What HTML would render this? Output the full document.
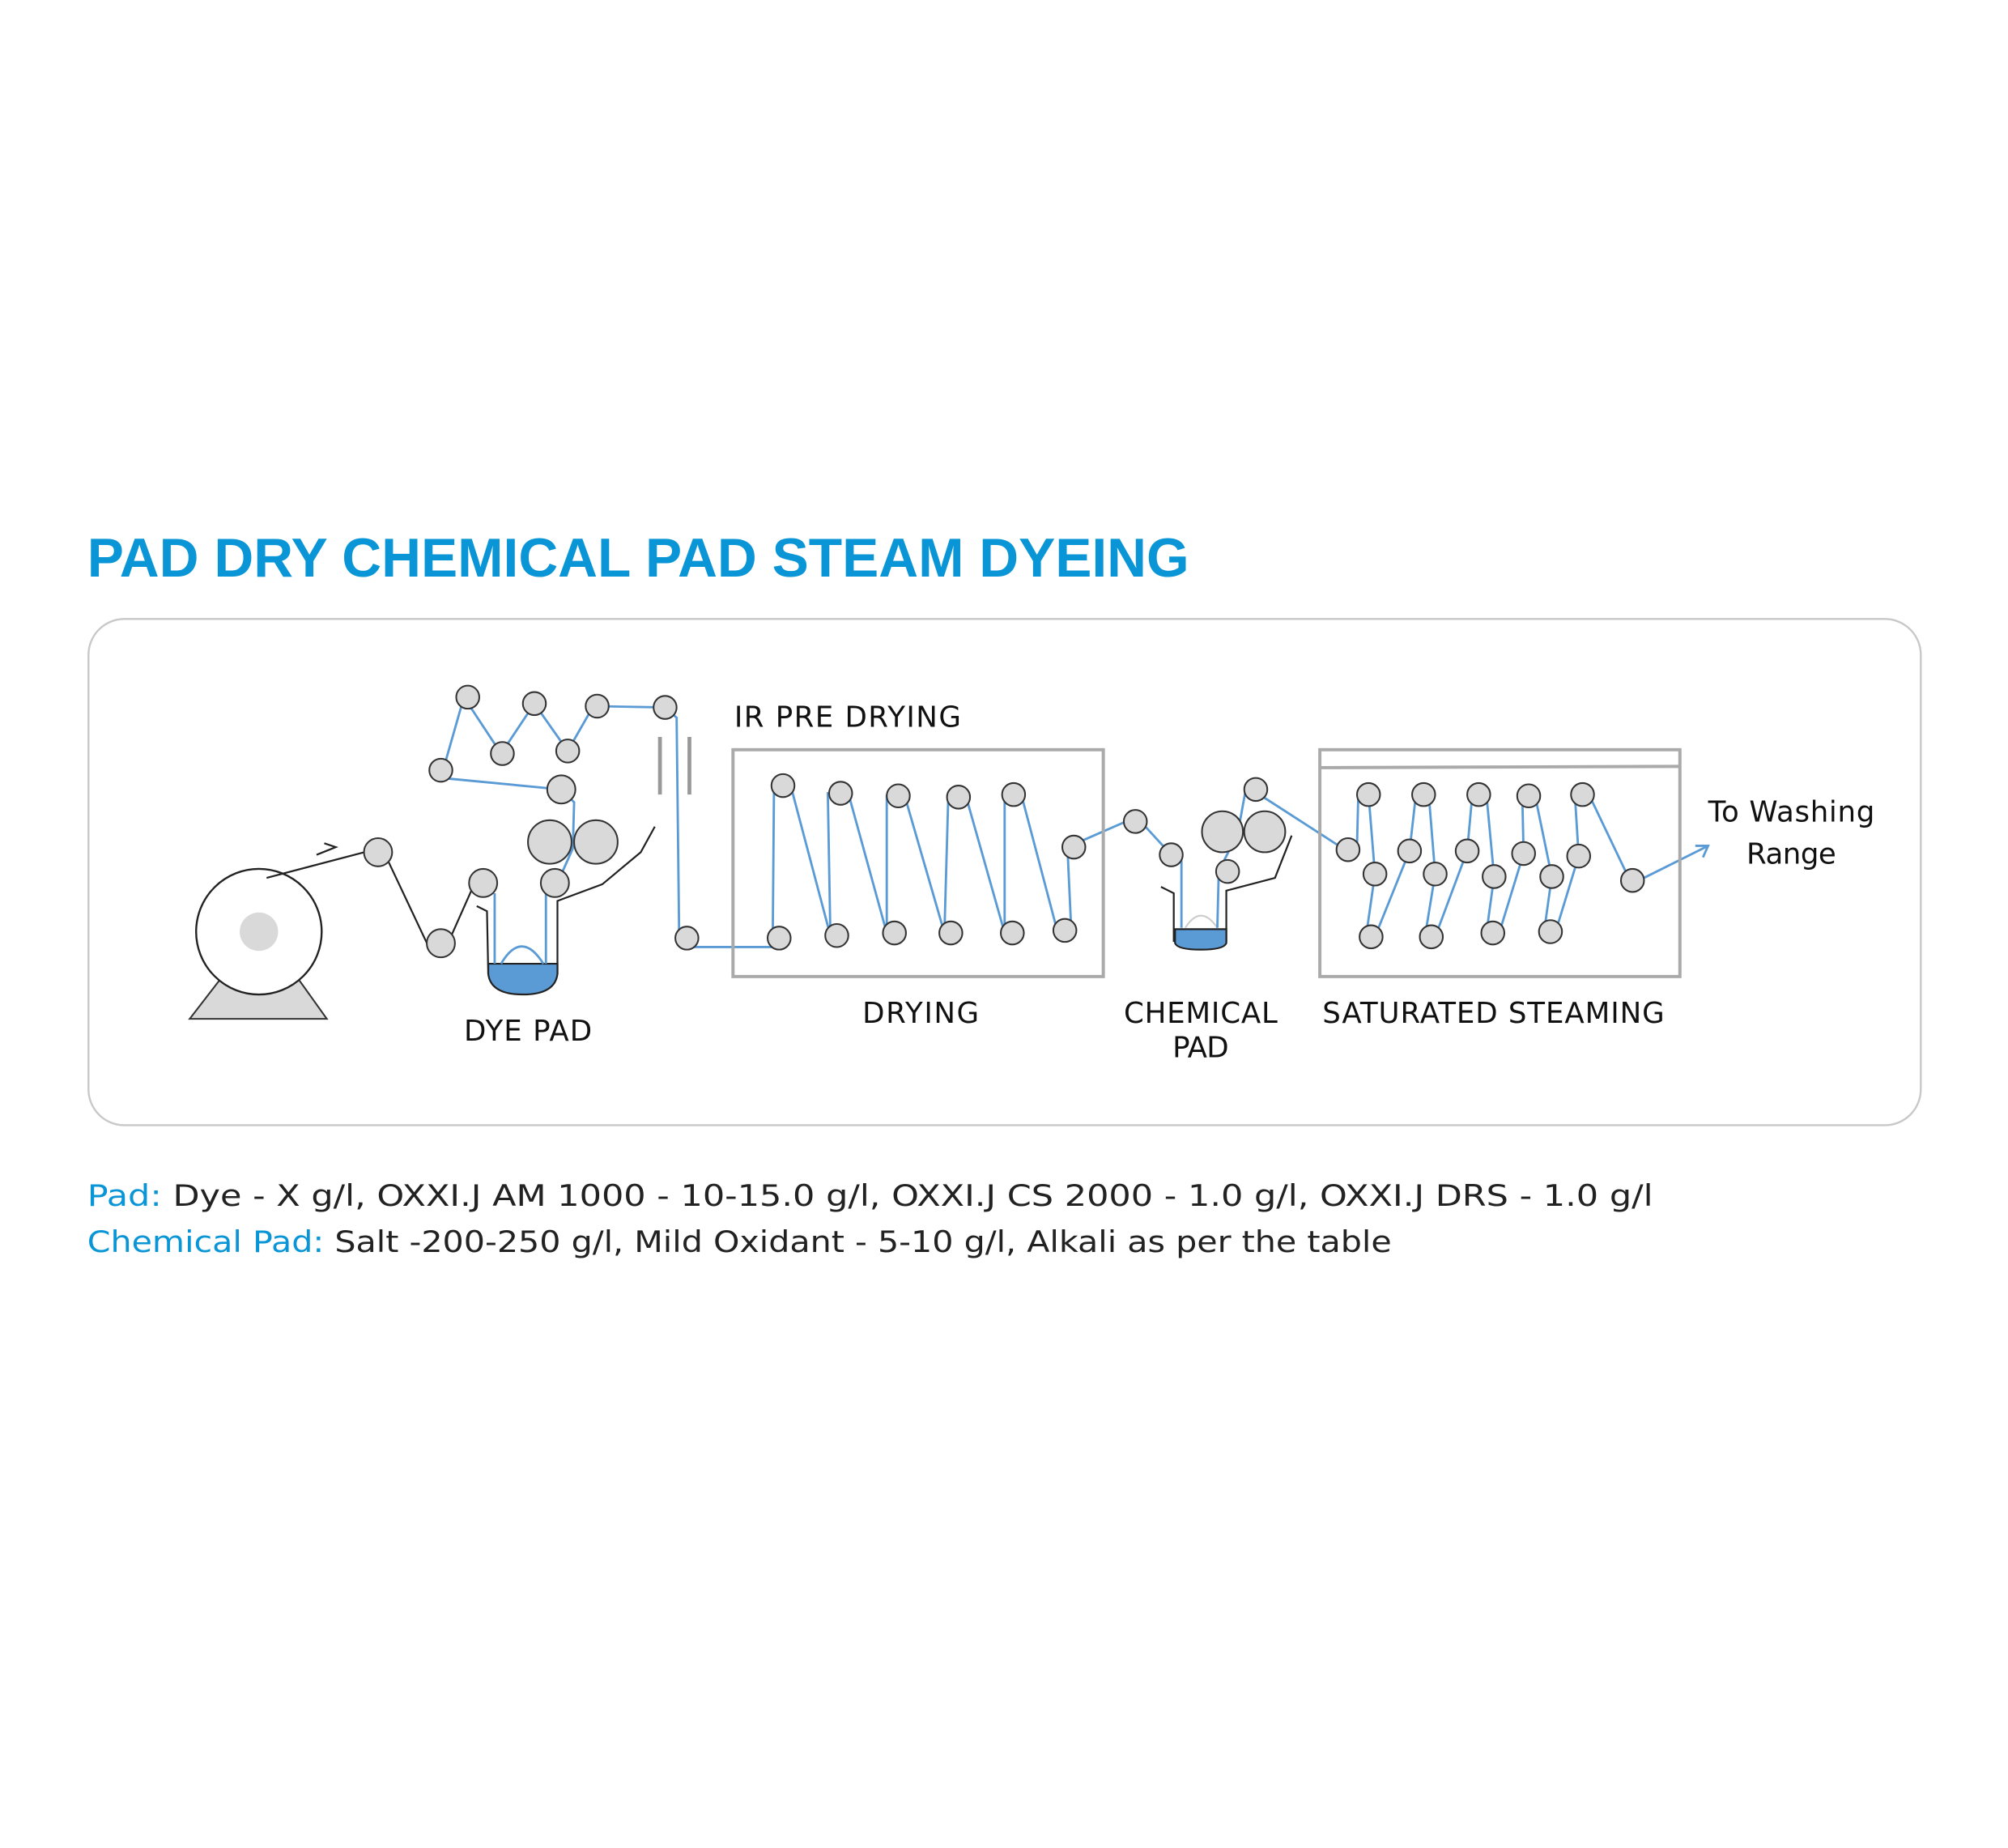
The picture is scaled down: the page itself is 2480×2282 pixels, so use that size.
<!DOCTYPE html>
<html><head><meta charset="utf-8"><style>
html,body{margin:0;padding:0;background:#fff;}
svg{display:block;}
text{font-family:"DejaVu Sans","Liberation Sans",sans-serif;}
</style></head><body>
<svg width="2480" height="2282" viewBox="0 0 1567 1442" xmlns="http://www.w3.org/2000/svg">
<rect width="1567" height="1442" fill="#fff"/>
<text x="68" y="450" font-weight="bold" font-size="43" fill="#0a96d6" textLength="860" lengthAdjust="spacingAndGlyphs" style="font-family:'Liberation Sans',sans-serif">PAD DRY CHEMICAL PAD STEAM DYEING</text>
<rect x="69" y="483" width="1430" height="395" rx="28" fill="none" stroke="#c8c8c8" stroke-width="1.5"/>

<!-- unwind -->
<polygon points="175,760 230,760 255,795 148,795" fill="#d9d9d9" stroke="#333" stroke-width="1.3"/>
<circle cx="202" cy="727" r="49" fill="#fff" stroke="#222" stroke-width="1.5"/>
<circle cx="202" cy="727" r="15" fill="#d9d9d9"/>
<g fill="none" stroke="#222" stroke-width="1.4">
<line x1="208" y1="685" x2="288" y2="664"/>
<polyline points="247,667 262,661 253,658"/>
<polyline points="302,670 335,740"/>
<polyline points="350,735 370,690"/>
<polyline points="372,707 380,711 381,760"/>
<polyline points="435,760 435,703 470,690 500,665 511,645"/>
<polyline points="906,692 916,697 916,735"/>
<polyline points="957,735 957,695 995,685 1008,652"/>
</g>
<!-- dye bath -->
<path d="M381,752 L435,752 L435,760 Q433,776 408,776 Q383,776 381,760 Z" fill="#5b9bd5" stroke="#222" stroke-width="1.4"/>
<path d="M917,725 L957,725 L957,736 Q955,741 937,741 Q919,741 917,736 Z" fill="#5b9bd5" stroke="#222" stroke-width="1.4"/>
<path d="M925,724 Q937,705 950,724" fill="none" stroke="#ccc" stroke-width="1.3"/>

<g fill="none" stroke="#5b9bd5" stroke-width="1.8">
<path d="M386,697 L386,752 M391,752 Q407,725 424,752 M426,752 L426,689 L433,689 M439,680 L447,662 L448,626 L438,616 L344,607 L362,544 L391,588 L417,549 L443,586 L463,551 L519,552 L528,560 L530,732 L536,739 L608,739"/>
<path d="M603,733 L604,613 L617,613 L648,730 L646,619 L662,619 L692,728 L692,621 L706,621 L737,728 L740,622 L754,622 L784,728 L784,620 L797,620 L825,726 L836,726 L833,661 L881,640 L886,641 L892,643 L914,667 L922,672 L922,724 M950,724 L951,684 L955,672 L966,650 L972,617 L980,616 L986,622 L1048,662 L1059,660 L1060,620 L1068,620 L1073,682 L1066,731 L1073,731 L1100,664 L1105,620 L1115,620 L1120,682 L1112,731 L1120,731 L1145,664 L1149,620 L1160,620 L1166,684 L1160,728 L1170,728 L1189,666 L1188,621 L1198,621 L1211,684 L1205,727 L1214,727 L1232,668 L1229,620 L1240,620 L1272,687 L1279,687 L1333,660"/>
<polyline points="1323,660 1333,660 1329,669"/>
</g>

<g fill="#d9d9d9" stroke="#333" stroke-width="1.3">
<circle cx="295" cy="665" r="11"/><circle cx="344" cy="736" r="11"/>
<circle cx="377" cy="689" r="11"/><circle cx="433" cy="689" r="11"/>
<circle cx="438" cy="616" r="11"/>
<circle cx="429" cy="657" r="17"/><circle cx="465" cy="657" r="17"/>
<circle cx="344" cy="601" r="9"/><circle cx="365" cy="544" r="9"/><circle cx="392" cy="588" r="9"/>
<circle cx="417" cy="549" r="9"/><circle cx="443" cy="586" r="9"/><circle cx="466" cy="551" r="9"/>
<circle cx="519" cy="552" r="9"/><circle cx="536" cy="732" r="9"/>
<circle cx="611" cy="613" r="9"/><circle cx="656" cy="619" r="9"/><circle cx="701" cy="621" r="9"/><circle cx="748" cy="622" r="9"/><circle cx="791" cy="620" r="9"/>
<circle cx="608" cy="732" r="9"/><circle cx="653" cy="730" r="9"/><circle cx="698" cy="728" r="9"/><circle cx="742" cy="728" r="9"/><circle cx="790" cy="728" r="9"/><circle cx="831" cy="726" r="9"/>
<circle cx="838" cy="661" r="9"/><circle cx="886" cy="641" r="9"/><circle cx="914" cy="667" r="9"/>
<circle cx="958" cy="680" r="9"/><circle cx="980" cy="616" r="9"/>
<circle cx="954" cy="649" r="16"/><circle cx="987" cy="649" r="16"/>
<circle cx="1052" cy="663" r="9"/><circle cx="1068" cy="620" r="9"/><circle cx="1111" cy="620" r="9"/><circle cx="1154" cy="620" r="9"/><circle cx="1193" cy="621" r="9"/><circle cx="1235" cy="620" r="9"/>
<circle cx="1073" cy="682" r="9"/><circle cx="1100" cy="664" r="9"/><circle cx="1120" cy="682" r="9"/><circle cx="1145" cy="664" r="9"/><circle cx="1166" cy="684" r="9"/><circle cx="1189" cy="666" r="9"/><circle cx="1211" cy="684" r="9"/><circle cx="1232" cy="668" r="9"/>
<circle cx="1070" cy="731" r="9"/><circle cx="1117" cy="731" r="9"/><circle cx="1165" cy="728" r="9"/><circle cx="1210" cy="727" r="9"/>
<circle cx="1274" cy="687" r="9"/>
</g>

<g stroke="#999" stroke-width="3"><line x1="515" y1="575" x2="515" y2="620"/><line x1="538" y1="575" x2="538" y2="620"/></g>
<g fill="none" stroke="#aaa" stroke-width="2.5">
<rect x="572" y="585" width="289" height="177"/>
<rect x="1030" y="585" width="281" height="177"/>
<line x1="1030" y1="599" x2="1311" y2="598"/>
</g>

<g font-size="22.5" fill="#111" lengthAdjust="spacingAndGlyphs">
<text x="573" y="567" textLength="177">IR PRE DRYING</text>
<text x="362" y="812" textLength="100">DYE PAD</text>
<text x="673" y="798" textLength="91">DRYING</text>
<text x="877" y="798" textLength="120">CHEMICAL</text>
<text x="915" y="825" textLength="44">PAD</text>
<text x="1032" y="798" textLength="267">SATURATED STEAMING</text>
<text x="1333" y="641" textLength="130">To Washing</text>
<text x="1363" y="674" textLength="70">Range</text>
</g>
<text x="68" y="941" font-size="23" fill="#222" textLength="1222" lengthAdjust="spacingAndGlyphs"><tspan fill="#0a96d6">Pad:</tspan> Dye - X g/l, OXXI.J AM 1000 - 10-15.0 g/l, OXXI.J CS 2000 - 1.0 g/l, OXXI.J DRS - 1.0 g/l</text>
<text x="68" y="977" font-size="23" fill="#222" textLength="1018" lengthAdjust="spacingAndGlyphs"><tspan fill="#0a96d6">Chemical Pad:</tspan> Salt -200-250 g/l, Mild Oxidant - 5-10 g/l, Alkali as per the table</text>
</svg>
</body></html>
